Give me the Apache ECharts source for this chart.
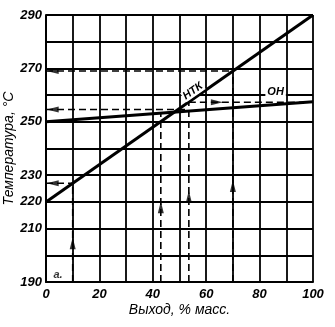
<!DOCTYPE html>
<html>
<head>
<meta charset="utf-8">
<script src="https://cdn.jsdelivr.net/npm/echarts@6/dist/echarts.min.js"></script>
<style>
  html, body { margin: 0; padding: 0; background: #fff; }
  #chart { width: 335px; height: 327px; }
</style>
</head>
<body>
<div id="chart"></div>
<script>
// Yield (% mass) at the ends of the two temperature lines
const yieldEnds = [0, 100];
// НТК: true boiling point curve, °C
const ntkTemp = [220, 290];
// ОН: single flash vaporisation line, °C
const onTemp = [250, 257.5];

// Axis ranges and labelled ticks
const xRange = [0, 100];
const yRange = [190, 290];
const xLabelled = [0, 20, 40, 60, 80, 100];
const yLabelled = [190, 210, 220, 230, 250, 270, 290];

// Dashed read-off guides: [x1, y1, x2, y2]
const guideLines = [
  [10, 190, 10, 227],
  [0, 227, 10, 227],
  [43, 190, 43, 253.2],
  [53.5, 190, 53.5, 258],
  [0, 254.6, 53.5, 254.6],
  [53.5, 257.3, 100, 257.3],
  [70, 190, 70, 269],
  [0, 269, 70, 269]
];

// Arrowheads on the guides, by direction
const arrowsUp = [[10, 204.5], [43, 218], [53.5, 222], [70, 226]];
const arrowsLeft = [[2.5, 227], [2.5, 254.6], [2.5, 269]];
const arrowsRight = [[64, 257.3]];

const fontFam = '"Liberation Sans", "DejaVu Sans", sans-serif';

const chart = echarts.init(document.getElementById('chart'), null, { renderer: 'canvas' });

const guideSeries = guideLines.map(g => ({
  type: 'line',
  data: [[g[0], g[1]], [g[2], g[3]]],
  symbol: 'none',
  silent: true,
  lineStyle: { color: '#000', width: 1.6, type: [7, 4] },
  z: 3
}));

const arrowSeries = (pts, rot) => ({
  type: 'scatter',
  data: pts,
  symbol: 'triangle',
  symbolSize: [6, 12],
  symbolRotate: rot,
  itemStyle: { color: '#000' },
  silent: true,
  z: 5
});

chart.setOption({
  animation: false,
  backgroundColor: '#fff',
  grid: { left: 46, right: 22, top: 15, bottom: 45, containLabel: false, outerBoundsMode: 'none' },
  xAxis: {
    type: 'value',
    min: xRange[0], max: xRange[1], interval: 10,
    name: 'Выход, % масс.',
    nameLocation: 'middle',
    nameGap: 21,
    nameMoveOverlap: false,
    nameTextStyle: { color: '#000', fontSize: 14, fontStyle: 'italic', fontFamily: fontFam },
    axisLine: { show: true, lineStyle: { color: '#000', width: 2 } },
    axisTick: { show: false },
    axisLabel: {
      color: '#000', fontSize: 13, fontStyle: 'italic', fontWeight: 'bold', fontFamily: fontFam, margin: 6,
      formatter: v => xLabelled.includes(v) ? String(v) : ''
    },
    splitLine: { show: true, lineStyle: { color: '#000', width: 1.8 } }
  },
  yAxis: {
    type: 'value',
    min: yRange[0], max: yRange[1], interval: 10,
    name: 'Температура, °С',
    nameLocation: 'middle',
    nameGap: 30,
    nameMoveOverlap: false,
    nameTextStyle: { color: '#000', fontSize: 14, fontStyle: 'italic', fontFamily: fontFam },
    axisLine: { show: true, lineStyle: { color: '#000', width: 2 } },
    axisTick: { show: false },
    axisLabel: {
      color: '#000', fontSize: 13, fontStyle: 'italic', fontWeight: 'bold', fontFamily: fontFam, margin: 4,
      formatter: v => yLabelled.includes(v) ? String(v) : ''
    },
    splitLine: { show: true, lineStyle: { color: '#000', width: 1.8 } }
  },
  series: [
    ...guideSeries,
    {
      name: 'НТК',
      type: 'line',
      data: yieldEnds.map((x, i) => [x, ntkTemp[i]]),
      symbol: 'none',
      lineStyle: { color: '#000', width: 3 },
      z: 4,
      markPoint: {
        symbol: 'circle', symbolSize: 0,
        data: [{ coord: [55, 261.5] }],
        label: {
          show: true, formatter: 'НТК', rotate: 35,
          color: '#000', fontSize: 11, fontStyle: 'italic', fontWeight: 'bold', fontFamily: fontFam,
          backgroundColor: '#fff', padding: [0, 1]
        }
      }
    },
    {
      name: 'ОН',
      type: 'line',
      data: yieldEnds.map((x, i) => [x, onTemp[i]]),
      symbol: 'none',
      lineStyle: { color: '#000', width: 3 },
      z: 4,
      markPoint: {
        symbol: 'circle', symbolSize: 0,
        data: [{ coord: [86, 261] }],
        label: {
          show: true, formatter: 'ОН',
          color: '#000', fontSize: 11, fontStyle: 'italic', fontWeight: 'bold', fontFamily: fontFam,
          backgroundColor: '#fff', padding: [1, 2]
        }
      }
    },
    arrowSeries(arrowsUp, 0),
    arrowSeries(arrowsLeft, 90),
    arrowSeries(arrowsRight, -90),
    {
      type: 'scatter',
      data: [[4.5, 192.5]],
      symbolSize: 0,
      silent: true,
      label: {
        show: true, formatter: 'а.', position: 'inside',
        color: '#000', fontSize: 11, fontStyle: 'italic', fontWeight: 'bold', fontFamily: fontFam
      }
    }
  ]
});
</script>
</body>
</html>
